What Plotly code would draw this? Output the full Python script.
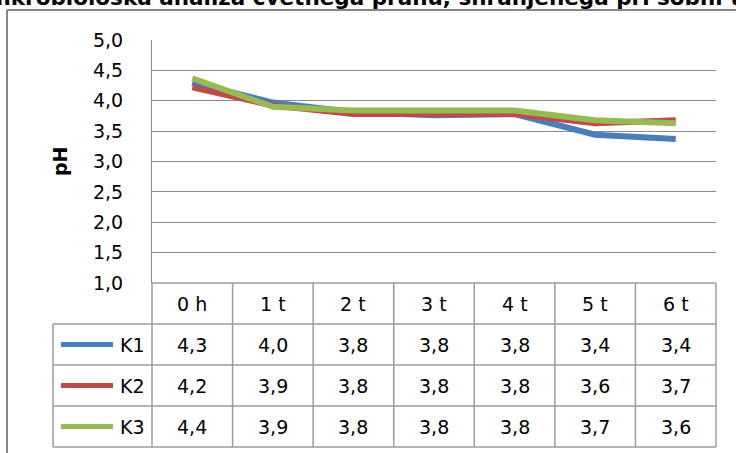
import plotly.graph_objects as go

# ---- data ----
periods = ["0 h", "1 t", "2 t", "3 t", "4 t", "5 t", "6 t"]
series_names = ["K1", "K2", "K3"]
k1 = [4.30, 3.97, 3.81, 3.76, 3.78, 3.44, 3.37]
k2 = [4.22, 3.92, 3.78, 3.79, 3.78, 3.63, 3.68]
k3 = [4.37, 3.90, 3.84, 3.84, 3.84, 3.68, 3.63]
series_values = [k1, k2, k3]
colors = ["#4A7EBB", "#BE4B48", "#98B954"]
title_text = "Mikrobiološka analiza cvetnega prahu, shranjenega pri sobni temperaturi"
y_title = "pH"

# ---- layout geometry (pixels) ----
W, H = 736, 453
ML, MR, MT, MB = 152, 20, 40, 170
PW, PH = W - ML - MR, H - MT - MB
ROW_H = 41
FONT = "DejaVu Sans"
FS = 19
GRID = "#8a8a8a"
TGRID = "#9c9c9c"

x_idx = list(range(len(periods)))
XR = [-0.5, len(periods) - 0.5]


def px_x(px):
    return (px - ML) / PW


def px_y(py):
    return (H - MB - py) / PH


def col_x(v):
    # paper x of a position on the category axis
    return (v - XR[0]) / (XR[1] - XR[0])


fig = go.Figure()
for name, vals, c in zip(series_names, series_values, colors):
    fig.add_trace(go.Scatter(
        x=x_idx, y=vals, name=name, mode="lines",
        line=dict(color=c, width=6), showlegend=False,
        hoverinfo="skip",
    ))

shapes = []
ann = []

# data table below the plot
table_top = H - MB
n_rows = len(series_names)
bottom = table_top + ROW_H * (n_rows + 1)
leg_left = 53
# horizontal rules
shapes.append(dict(type="line", xref="paper", yref="paper",
                   x0=col_x(XR[0]), x1=col_x(XR[1]),
                   y0=px_y(table_top), y1=px_y(table_top),
                   line=dict(color=TGRID, width=1.5)))
for r in range(1, n_rows + 2):
    yy = px_y(table_top + r * ROW_H)
    shapes.append(dict(type="line", xref="paper", yref="paper",
                       x0=px_x(leg_left), x1=col_x(XR[1]), y0=yy, y1=yy,
                       line=dict(color=TGRID, width=1.5)))
# vertical rules
for i in range(len(periods) + 1):
    xx = col_x(i - 0.5)
    shapes.append(dict(type="line", xref="paper", yref="paper",
                       x0=xx, x1=xx, y0=px_y(table_top), y1=px_y(bottom),
                       line=dict(color=TGRID, width=1.5)))
shapes.append(dict(type="line", xref="paper", yref="paper",
                   x0=px_x(leg_left), x1=px_x(leg_left),
                   y0=px_y(table_top + ROW_H), y1=px_y(bottom),
                   line=dict(color=TGRID, width=1.5)))

# header labels
for i, p in enumerate(periods):
    ann.append(dict(x=i, xref="x", y=px_y(table_top + ROW_H / 2), yref="paper",
                    text=p, showarrow=False, xanchor="center", yanchor="middle",
                    font=dict(family=FONT, size=FS, color="black")))
# rows
for r, (name, vals, c) in enumerate(zip(series_names, series_values, colors)):
    cy = px_y(table_top + ROW_H * (r + 1) + ROW_H / 2)
    shapes.append(dict(type="line", xref="paper", yref="paper",
                       x0=px_x(61), x1=px_x(113), y0=cy, y1=cy,
                       line=dict(color=c, width=5)))
    ann.append(dict(x=px_x(147), xref="paper", y=cy, yref="paper", text=name,
                    showarrow=False, xanchor="right", yanchor="middle",
                    font=dict(family=FONT, size=FS, color="black")))
    for i, v in enumerate(vals):
        ann.append(dict(x=i, xref="x", y=cy, yref="paper",
                        text=f"{v:.1f}".replace(".", ","), showarrow=False,
                        xanchor="center", yanchor="middle",
                        font=dict(family=FONT, size=FS, color="black")))

# chart area frame
shapes.append(dict(type="line", xref="paper", yref="paper",
                   x0=px_x(7), x1=px_x(W + 5), y0=px_y(10), y1=px_y(10),
                   line=dict(color="#878787", width=2)))
shapes.append(dict(type="line", xref="paper", yref="paper",
                   x0=px_x(7), x1=px_x(7), y0=px_y(10), y1=px_y(H + 5),
                   line=dict(color="#878787", width=2)))

# title and axis title
ann.append(dict(x=px_x(-20), xref="paper", y=px_y(12), yref="paper",
                text="<b>" + title_text + "</b>", showarrow=False,
                xanchor="left", yanchor="bottom",
                font=dict(family=FONT, size=21.5, color="black")))
ann.append(dict(x=px_x(60), xref="paper", y=px_y(161), yref="paper",
                text="<b>" + y_title + "</b>", showarrow=False, textangle=-90,
                xanchor="center", yanchor="middle",
                font=dict(family=FONT, size=FS, color="black")))

fig.update_layout(
    width=W, height=H,
    margin=dict(l=ML, r=MR, t=MT, b=MB, pad=0),
    paper_bgcolor="white", plot_bgcolor="white",
    separators=",.",
    shapes=shapes, annotations=ann,
    xaxis=dict(range=XR, showticklabels=False, showgrid=False,
               zeroline=False, showline=False, ticks=""),
    yaxis=dict(range=[1, 5], dtick=0.5, tick0=1, tickformat=".1f",
               showgrid=True, gridcolor=GRID, gridwidth=1.2,
               zeroline=False, showline=True, linecolor=GRID, linewidth=1.2,
               ticks="", ticklabelstandoff=24,
               tickfont=dict(family=FONT, size=FS, color="black")),
)

fig.write_html("out.html")
